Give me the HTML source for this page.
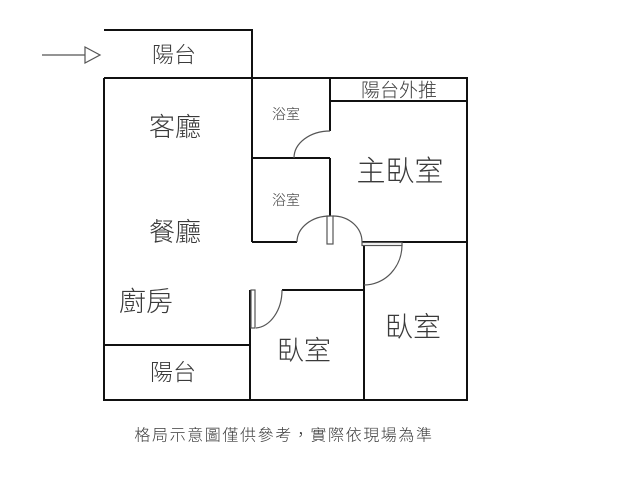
<!DOCTYPE html>
<html><head><meta charset="utf-8"><style>
body{margin:0;background:#fff;}
svg text{font-family:"Liberation Sans","Noto Sans CJK TC",sans-serif;fill:#3a3a3a;text-anchor:middle;dominant-baseline:central;font-weight:300;}
</style></head><body>
<svg width="640" height="480" viewBox="0 0 640 480" xmlns="http://www.w3.org/2000/svg">
<g stroke="#111" stroke-width="2" fill="none">
<polyline points="104,30 252,30 252,242"/>
<line x1="104" y1="78" x2="330" y2="78"/>
<polyline points="104,78 104,400 467,400 467,78 330,78"/>
<line x1="330" y1="78" x2="330" y2="131"/>
<line x1="330" y1="101" x2="467" y2="101"/>
<line x1="252" y1="158" x2="330" y2="158"/>
<line x1="330" y1="158" x2="330" y2="216"/>
<line x1="252" y1="242" x2="297" y2="242"/>
<line x1="362" y1="242" x2="467" y2="242"/>
<line x1="364" y1="246" x2="364" y2="400"/>
<line x1="250" y1="290" x2="250" y2="400"/>
<line x1="282" y1="290" x2="364" y2="290"/>
<line x1="104" y1="345" x2="250" y2="345"/>
</g>
<g stroke="#555" stroke-width="1.2" fill="none">
<path d="M330,131 A36,27 0 0 0 294,158"/>
<path d="M330,216 A33,26 0 0 0 297,242"/>
<path d="M333,216 A29,26 0 0 1 362,242"/>
<path d="M402,245 A38,40 0 0 1 364,285"/>
<path d="M256,328 A28,38 0 0 0 282,290"/>
<rect x="327" y="216" width="6" height="28"/>
<rect x="362" y="242.5" width="40" height="3"/>
<rect x="251" y="290" width="4" height="38"/>
<line x1="42" y1="55" x2="85" y2="55"/>
<polygon points="85,47 100,55 85,63"/>
</g>
<text x="174" y="55" font-size="22">陽台</text>
<text x="175" y="127" font-size="26">客廳</text>
<text x="175" y="232" font-size="26">餐廳</text>
<text x="146" y="302" font-size="27">廚房</text>
<text x="173" y="372" font-size="23">陽台</text>
<text x="286" y="114" font-size="14">浴室</text>
<text x="286" y="200" font-size="14">浴室</text>
<text x="399" y="91" font-size="19">陽台外推</text>
<text x="400" y="172" font-size="29">主臥室</text>
<text x="304" y="351" font-size="27">臥室</text>
<text x="413" y="327" font-size="28">臥室</text>
<text x="284" y="436" font-size="16" letter-spacing="1.6">格局示意圖僅供參考，實際依現場為準</text>
</svg>
</body></html>
